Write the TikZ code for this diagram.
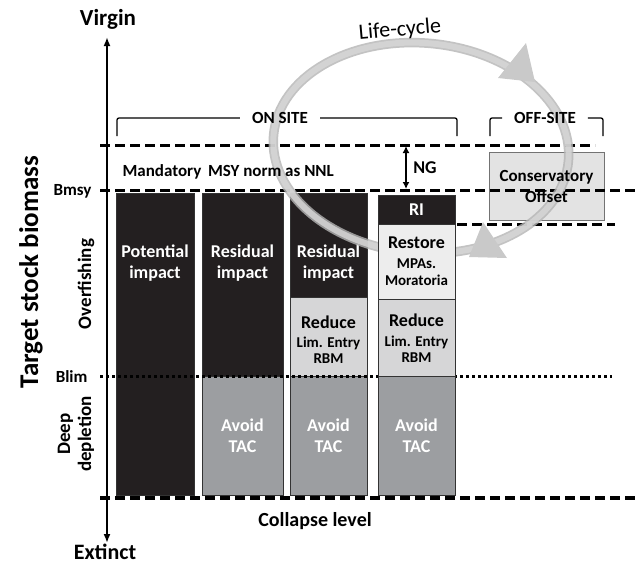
\documentclass[tikz,border=0pt]{standalone}
\usepackage{fontspec}
\setmainfont{Carlito}
\usetikzlibrary{arrows.meta, positioning, calc}

\definecolor{barblack}{HTML}{231F20}
\definecolor{avoidgray}{HTML}{9C9EA1}
\definecolor{reducegray}{HTML}{D6D6D7}
\definecolor{restoregray}{HTML}{EDEDED}
\definecolor{offsetgray}{HTML}{DCDCDC}
\definecolor{ringgray}{HTML}{D8D8D8}
\definecolor{ringedge}{HTML}{B4B4B4}
\definecolor{arrowgray}{HTML}{C9C9C9}

\begin{document}
\begin{tikzpicture}[
    x=1pt, y=-1pt,
    bar/.style={draw=black!80, line width=0.8pt, inner sep=0pt, outer sep=0pt, anchor=north west, align=center},
    wtext/.style={font=\fontsize{18}{21}\selectfont\bfseries, text=white, align=center},
    ktext/.style={font=\fontsize{18}{21}\selectfont\bfseries, align=center},
    subtext/.style={font=\fontsize{15}{16.5}\selectfont\bfseries, align=center},
    level/.style={line width=3pt, dash pattern=on 10pt off 5pt},
    limit/.style={line width=3pt, dash pattern=on 3pt off 3pt},
    bracket/.style={line width=1.3pt, rounded corners=2pt},
    site/.style={font=\fontsize{17}{19}\selectfont\bfseries, inner xsep=12pt},
    axlabel/.style={font=\fontsize{23}{26}\selectfont\bfseries},
    zone/.style={font=\fontsize{19}{21}\selectfont\bfseries, align=center, rotate=90},
    ring/.style={line width=#1, opacity=0.8, rotate around={-5:(421,148)}}
]

\useasboundingbox (0,0) rectangle (638,566);

% Columns 1 to 3
\node[bar, fill=barblack, minimum width=78pt, minimum height=302pt] (pot) at (116,193) {};
\node[bar, fill=barblack, minimum width=81pt, minimum height=183pt] (res2) at (202,193) {};
\node[bar, fill=avoidgray, minimum width=81pt, minimum height=119pt, wtext] (avoid2) at (202,376) {Avoid\\TAC};
\node[bar, fill=barblack, minimum width=77pt, minimum height=104pt] (res3) at (290,193) {};
\node[bar, fill=reducegray, minimum width=77pt, minimum height=79pt] (red3) at (290,297) {};
\node[bar, fill=avoidgray, minimum width=77pt, minimum height=119pt, wtext] (avoid3) at (290,376) {Avoid\\TAC};

\node[wtext] (potT) at ($(pot.north)+(0,70)$) {Potential\\impact};
\node[wtext] (res2T) at ($(res2.north)+(0,70)$) {Residual\\impact};
\node[wtext] (res3T) at ($(res3.north)+(0,70)$) {Residual\\impact};
\node[ktext] (red3T) at ($(red3.north)+(0,25)$) {Reduce};
\node[subtext] (red3S) at ($(red3.north)+(0,53)$) {Lim. Entry\\RBM};

% Off-site box
\node[bar, draw=black!55, fill=offsetgray, fill opacity=0.8, minimum width=115pt, minimum height=68pt] (offset) at (489,152) {};

% Reference levels
\draw[level] (100,145) -- (595,145);
\draw[level] (100,190) -- (638,190);
\draw[level] (457,224) -- (615,224);
\draw[limit] (100,376) -- (612,376);
\draw[level, line width=3.5pt] (100,498) -- (638,498);

% Life-cycle ring
\draw[ring=9.5pt, ringedge] (421,148) ellipse [x radius=148, y radius=105];
\draw[ring=6pt, ringgray] (421,148) ellipse [x radius=148, y radius=105];
\fill[arrowgray] (526,43) -- (498,78) -- (535,82) -- cycle;
\fill[arrowgray] (483,222) -- (469,257) -- (507,258) -- cycle;
\node[font=\fontsize{22}{24}\selectfont, rotate=5] (life) at (400,30) {Life-cycle};
\node[ktext, font=\fontsize{17}{21}\selectfont\bfseries] (offsetT) at (offset.center) {Conservatory\\Offset};

% Column 4
\node[bar, fill=barblack, minimum width=77pt, minimum height=29pt, wtext] (ri) at (378,195) {RI};
\node[bar, fill=restoregray, minimum width=77pt, minimum height=75pt] (rest) at (378,224) {};
\node[bar, fill=reducegray, minimum width=77pt, minimum height=77pt] (red4) at (378,299) {};
\node[bar, fill=avoidgray, minimum width=77pt, minimum height=119pt, wtext] (avoid4) at (378,376) {Avoid\\TAC};

\node[ktext] (restT) at ($(rest.north)+(0,19)$) {Restore};
\node[subtext] (restS) at ($(rest.north)+(0,48)$) {MPAs.\\Moratoria};
\node[ktext] (red4T) at ($(red4.north)+(0,21)$) {Reduce};
\node[subtext] (red4S) at ($(red4.north)+(0,50)$) {Lim. Entry\\RBM};

% Site brackets
\node[site] (onsite) at (280,118) {ON SITE};
\node[site] (offsite) at (545,118) {OFF-SITE};
\draw[bracket] (117,136) |- (onsite.west);
\draw[bracket] (onsite.east) -| (457,136);
\draw[bracket] (490,136) |- (offsite.west);
\draw[bracket] (offsite.east) -| (603,136);

% Net gain
\coordinate (ngtop) at (406,146);
\coordinate (ngbot) at (406,189);
\draw[line width=2pt, {Latex[length=7pt,width=7pt]}-{Latex[length=7pt,width=7pt]}] (ngtop) -- (ngbot);
\node[font=\fontsize{18}{20}\selectfont\bfseries] (ng) at (425,168) {NG};
\node[font=\fontsize{17}{20}\selectfont\bfseries, anchor=west] (msy) at (119,172) {Mandatory\, MSY norm as NNL};

% Axis
\coordinate (axbot) at (107,543);
\coordinate (axtop) at (107,37);
\draw[line width=2.2pt, {Latex[length=9pt,width=7pt]}-{Latex[length=9pt,width=7pt]}] (axbot) -- (axtop);
\node[axlabel] (virgin) at (108,19) {Virgin};
\node[axlabel, font=\fontsize{22}{24}\selectfont\bfseries, inner ysep=1pt, anchor=base] (extinct) at (105,559) {Extinct};
\node[font=\fontsize{17}{19}\selectfont\bfseries, anchor=east] (bmsy) at (95,191) {Bmsy};
\node[font=\fontsize{17}{19}\selectfont\bfseries, anchor=east] (blim) at (91,377) {Blim};
\node[zone] (over) at (86,284) {Overfishing};
\node[zone] (deep) at (76,434) {Deep\\depletion};
\node[font=\fontsize{27}{30}\selectfont\bfseries, rotate=90] (ylab) at (31,272) {Target stock biomass};
\node[font=\fontsize{20}{22}\selectfont\bfseries] (collapse) at (315,521) {Collapse level};

\end{tikzpicture}
\end{document}
